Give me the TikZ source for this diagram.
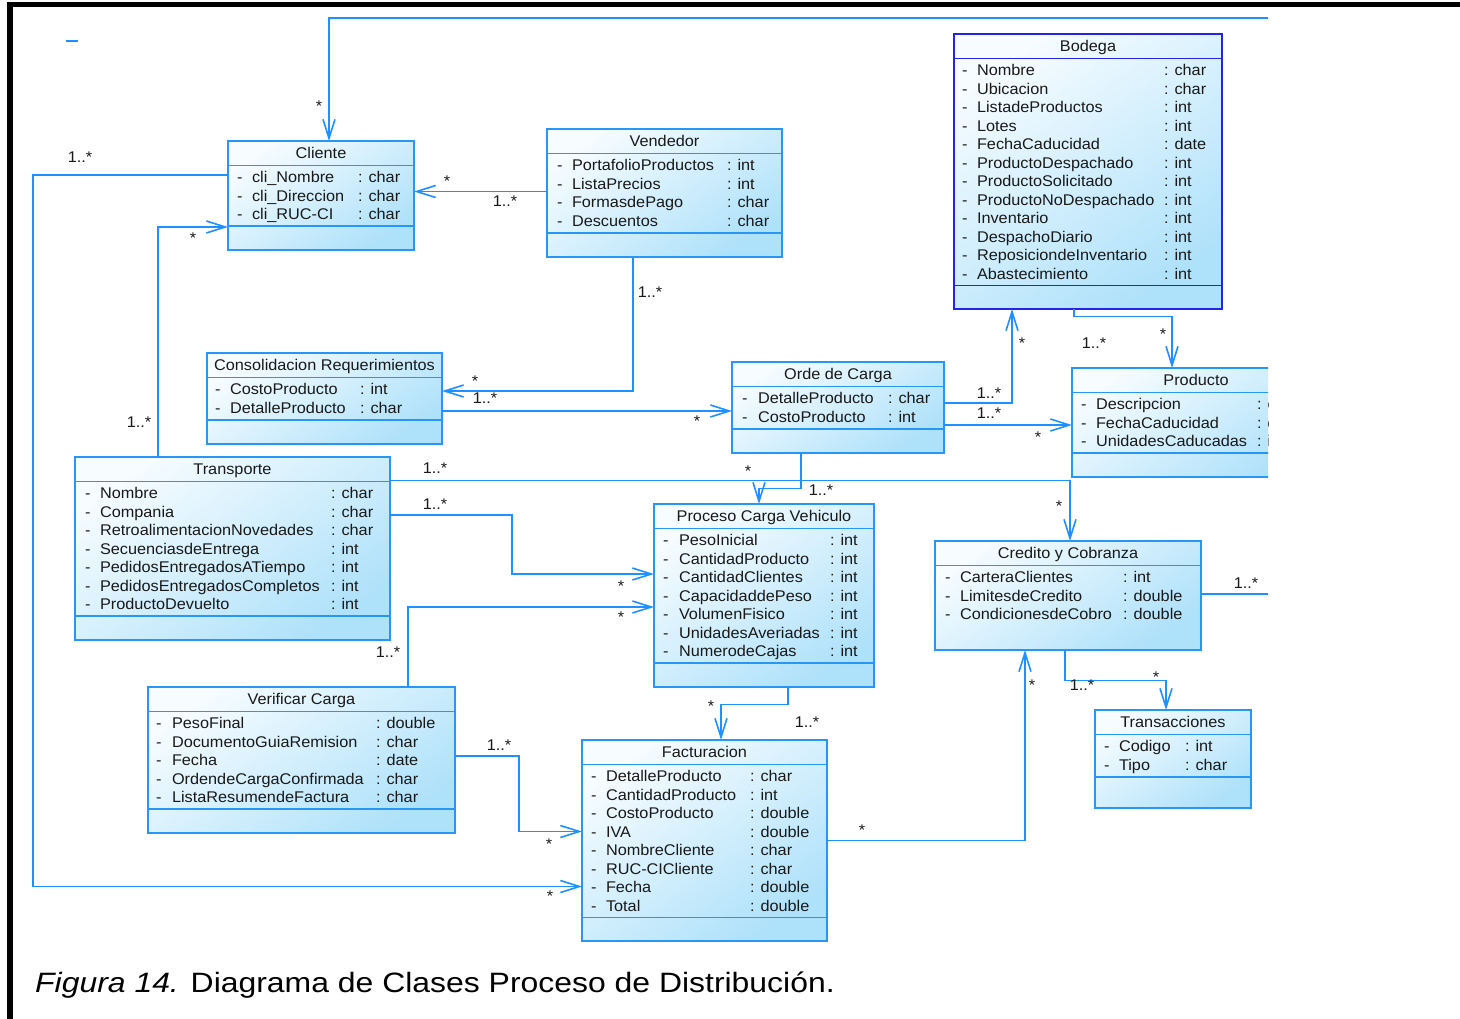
\documentclass[tikz,border=0pt]{standalone}
\usepackage{fontspec}
\setmainfont{Liberation Sans}
\newfontfamily\umlfont[FakeStretch=1.05]{Liberation Sans}
\newfontfamily\captionfont[FakeStretch=1.14]{Liberation Sans}
\usetikzlibrary{arrows.meta}

\definecolor{boxline}{RGB}{40,150,245}
\definecolor{storeline}{RGB}{35,35,235}
\definecolor{linkblue}{RGB}{30,144,255}
\definecolor{fillA}{RGB}{246,252,255}
\definecolor{fillC}{RGB}{174,225,250}
\definecolor{inkgray}{RGB}{25,25,25}

\tikzset{
  classbox/.style={shape=rectangle, inner sep=0pt, outer sep=0pt, line width=1.5pt,
    top color=fillA, bottom color=fillC, shading angle=35},
  rule/.style={line width=1.5pt},
  umltext/.style={inner sep=0pt, outer sep=0pt, text=inkgray,
    font=\umlfont\fontsize{15.5}{18}\selectfont},
  assoc/.style={draw=linkblue, line width=1.6pt,
    -{Straight Barb[length=19pt,width=12pt]}},
  link/.style={draw=linkblue, line width=1.6pt},
  mult/.style={umltext, anchor=base},
}

% class box: #1 name, #2 left, #3 top, #4 right, #5 bottom,
% #6 attribute rule y (empty: none), #7 border colour, #8 title
\newcommand\umlclass[8]{%
  \node[classbox, draw=#7, anchor=north west,
        minimum width={#4-#2}, minimum height={#5-#3}] (#1) at (#2,#3) {};
  \draw[rule, #7] (#2,#3+24.5) -- (#4,#3+24.5);
  \if\relax\detokenize{#6}\relax\else
    \draw[rule, #7] (#2,#6) -- (#4,#6);
  \fi
  \node[umltext, anchor=base] (#1-title) at ({(#2+#4)/2},{#3+17.5}) {#8};
}

% attribute rows: #1 prefix, #2 dash x, #3 name x, #4 type x,
% #5 first baseline, #6 list of name/type
\newcommand\umlattrs[6]{%
  \foreach \aname/\atype [count=\i from 0] in {#6}{%
    \pgfmathsetmacro\rowy{#5+18.5*\i}%
    \node[umltext, anchor=base west] (#1-dash\i) at (#2,\rowy) {-};
    \node[umltext, anchor=base west] (#1-name\i) at (#3,\rowy) {\aname};
    \node[umltext, anchor=base west] (#1-type\i) at (#4,\rowy) {: \atype};
  }%
}

\begin{document}
\begin{tikzpicture}[x=1pt, y=-1pt]
\useasboundingbox (0,0) rectangle (1460,1018);
\fill[white] (0,0) rectangle (1460,1018);

% page frame
\draw[line width=5.5pt, black] (10,1030) -- (10,4.5) -- (1470,4.5);

\begin{scope}
\clip (0,0) rectangle (1268,1018);

% stray mark
\draw[linkblue, line width=1.5pt] (66,41) -- (78,41);

% ---- classes ----
\umlclass{cliente}{228}{141}{414}{250}{226}{boxline}{Cliente}
\umlattrs{cliente}{237}{252}{358}{182.5}{cli\_Nombre/char, cli\_Direccion/char, cli\_RUC-CI/char}

\umlclass{vendedor}{547}{129}{782}{257}{233}{boxline}{Vendedor}
\umlattrs{vendedor}{557}{572}{727}{170.5}{PortafolioProductos/int, ListaPrecios/int, FormasdePago/char, Descuentos/char}

\umlclass{bodega}{954}{34}{1222}{309}{285.5}{storeline}{Bodega}
\umlattrs{bodega}{962}{977}{1164}{75.5}{Nombre/char, Ubicacion/char, ListadeProductos/int, Lotes/int, FechaCaducidad/date, ProductoDespachado/int, ProductoSolicitado/int, ProductoNoDespachado/int, Inventario/int, DespachoDiario/int, ReposiciondeInventario/int, Abastecimiento/int}

\umlclass{producto}{1072}{368}{1320}{477}{453}{boxline}{Producto}
\umlattrs{producto}{1081}{1096}{1257}{409.5}{Descripcion/char, FechaCaducidad/date, UnidadesCaducadas/int}

\umlclass{consolidacion}{207}{353}{442}{444}{420}{boxline}{Consolidacion Requerimientos}
\umlattrs{consolidacion}{215}{230}{360}{394.5}{CostoProducto/int, DetalleProducto/char}

\umlclass{ordecarga}{732}{362}{944}{453}{429}{boxline}{Orde de Carga}
\umlattrs{ordecarga}{742}{758}{888}{403.5}{DetalleProducto/char, CostoProducto/int}

\umlclass{transporte}{75}{457}{390}{640}{616}{boxline}{Transporte}
\umlattrs{transporte}{85}{100}{331}{498.5}{Nombre/char, Compania/char, RetroalimentacionNovedades/char, SecuenciasdeEntrega/int, PedidosEntregadosATiempo/int, PedidosEntregadosCompletos/int, ProductoDevuelto/int}

\umlclass{proceso}{654}{504}{874}{687}{663}{boxline}{Proceso Carga Vehiculo}
\umlattrs{proceso}{663}{679}{830}{545.5}{PesoInicial/int, CantidadProducto/int, CantidadClientes/int, CapacidaddePeso/int, VolumenFisico/int, UnidadesAveriadas/int, NumerodeCajas/int}

\umlclass{credito}{935}{541}{1201}{650}{}{boxline}{Credito y Cobranza}
\umlattrs{credito}{945}{960}{1123}{582.5}{CarteraClientes/int, LimitesdeCredito/double, CondicionesdeCobro/double}

\umlclass{transacciones}{1095}{710}{1251}{808}{777}{boxline}{Transacciones}
\umlattrs{transacciones}{1104}{1119}{1185}{751.5}{Codigo/int, Tipo/char}

\umlclass{verificar}{148}{687}{455}{833}{809}{boxline}{Verificar Carga}
\umlattrs{verificar}{156}{172}{376}{728.5}{PesoFinal/double, DocumentoGuiaRemision/char, Fecha/date, OrdendeCargaConfirmada/char, ListaResumendeFactura/char}

\umlclass{facturacion}{582}{740}{827}{941}{917.5}{boxline}{Facturacion}
\umlattrs{facturacion}{591}{606}{750}{781.5}{DetalleProducto/char, CantidadProducto/int, CostoProducto/double, IVA/double, NombreCliente/char, RUC-CICliente/char, Fecha/double, Total/double}

% ---- associations ----
\coordinate (offtop) at (1300,18);
\coordinate (offright) at (1300,594);

\draw[assoc] (offtop) -- (329,18) -- (cliente.north -| 329,0);
\draw[assoc] (cliente.west |- 0,175) -- (33,175) -- (33,886.5) -- (facturacion.west |- 0,886.5);
\draw[assoc] (vendedor.west |- 0,191.5) -- (cliente.east |- 0,191.5);
\draw[assoc] (transporte.north -| 158,0) -- (158,227) -- (cliente.west |- 0,227);
\draw[assoc] (vendedor.south -| 633,0) -- (633,391) -- (consolidacion.east |- 0,391);
\draw[assoc] (consolidacion.east |- 0,411) -- (ordecarga.west |- 0,411);
\draw[assoc] (ordecarga.east |- 0,403) -- (1012,403) -- (bodega.south -| 1012,0);
\draw[assoc] (ordecarga.east |- 0,425) -- (producto.west |- 0,425);
\draw[assoc] (bodega.south -| 1074,0) -- (1074,316.5) -- (1172,316.5) -- (producto.north -| 1172,0);
\draw[assoc] (ordecarga.south -| 801,0) -- (801,488.5) -- (759,488.5) -- (proceso.north -| 759,0);
\draw[assoc] (transporte.east |- 0,480.5) -- (1070,480.5) -- (credito.north -| 1070,0);
\draw[assoc] (transporte.east |- 0,515) -- (512,515) -- (512,574) -- (proceso.west |- 0,574);
\draw[assoc] (verificar.north -| 408,0) -- (408,607) -- (proceso.west |- 0,607);
\draw[assoc] (proceso.south -| 788,0) -- (788,704.5) -- (721,704.5) -- (facturacion.north -| 721,0);
\draw[assoc] (verificar.east |- 0,756) -- (519,756) -- (519,831.5) -- (facturacion.west |- 0,831.5);
\draw[assoc] (facturacion.east |- 0,840.5) -- (1025,840.5) -- (credito.south -| 1025,0);
\draw[assoc] (credito.south -| 1065,0) -- (1065,680.5) -- (1166,680.5) -- (transacciones.north -| 1166,0);
\draw[link] (credito.east |- 0,594) -- (offright);

% ---- multiplicities ----
\node[mult] (s1)  at (319,111.9) {*};
\node[mult] (s2)  at (447,186.9) {*};
\node[mult] (s3)  at (193,243.9) {*};
\node[mult] (s4)  at (475,386.9) {*};
\node[mult] (s5)  at (697,426.9) {*};
\node[mult] (s6)  at (1022,348.9) {*};
\node[mult] (s7)  at (1038,442.9) {*};
\node[mult] (s8)  at (1163,339.9) {*};
\node[mult] (s9)  at (748,476.9) {*};
\node[mult] (s10) at (1059,511.9) {*};
\node[mult] (s11) at (621,591.9) {*};
\node[mult] (s12) at (621,622.9) {*};
\node[mult] (s13) at (711,711.9) {*};
\node[mult] (s14) at (549,849.9) {*};
\node[mult] (s15) at (550,901.9) {*};
\node[mult] (s16) at (862,835.9) {*};
\node[mult] (s17) at (1032,690.9) {*};
\node[mult] (s18) at (1156,682.9) {*};

\node[mult] (r1)  at (80,162.5) {1..*};
\node[mult] (r2)  at (505,206.5) {1..*};
\node[mult] (r3)  at (650,297.5) {1..*};
\node[mult] (r4)  at (485,403.5) {1..*};
\node[mult] (r5)  at (139,427.5) {1..*};
\node[mult] (r6)  at (989,398.5) {1..*};
\node[mult] (r7)  at (989,418.5) {1..*};
\node[mult] (r8)  at (1094,348.5) {1..*};
\node[mult] (r9)  at (821,495.5) {1..*};
\node[mult] (r10) at (435,473.5) {1..*};
\node[mult] (r11) at (435,509) {1..*};
\node[mult] (r12) at (388,657.5) {1..*};
\node[mult] (r13) at (807,727.5) {1..*};
\node[mult] (r14) at (499,750.5) {1..*};
\node[mult] (r15) at (1082,690.5) {1..*};
\node[mult] (r16) at (1246,588.5) {1..*};
\end{scope}

% ---- caption ----
\node[anchor=base west, inner sep=0pt, text=black,
      font=\captionfont\fontsize{28}{32}\selectfont] (caption) at (35,992)
  {\textit{Figura 14.} Diagrama de Clases Proceso de Distribución.};
\end{tikzpicture}
\end{document}
